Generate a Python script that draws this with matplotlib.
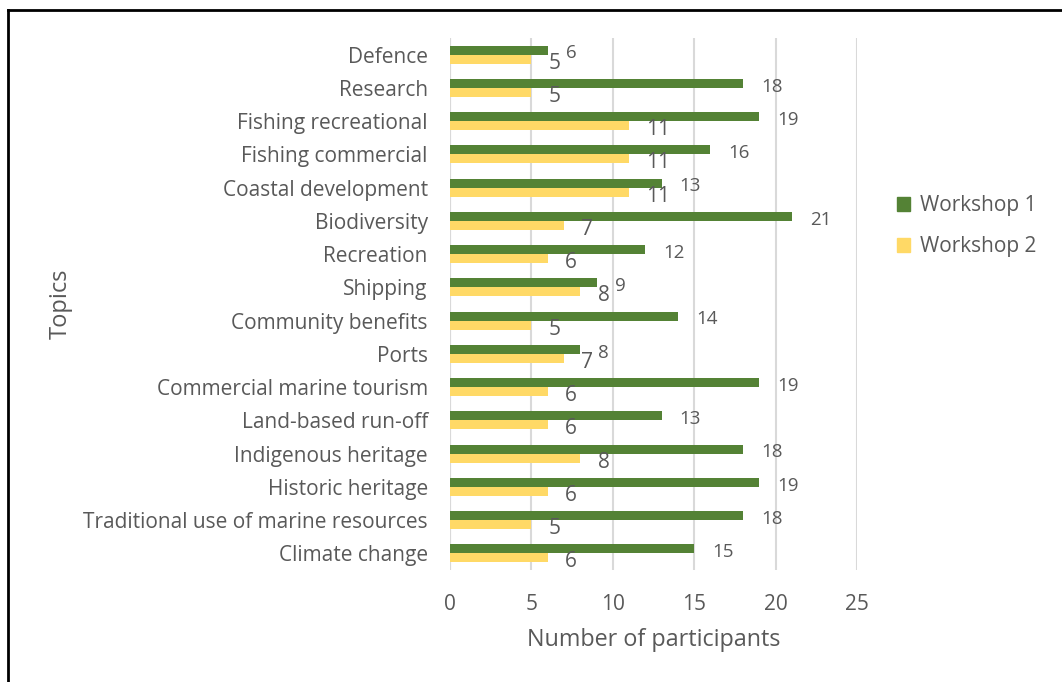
import matplotlib
matplotlib.use("Agg")
import matplotlib.pyplot as plt
import numpy as np
from matplotlib.lines import Line2D
from matplotlib.patches import Patch

plt.rcParams['font.family'] = ['Open Sans', 'DejaVu Sans']

topics = ["Defence", "Research", "Fishing recreational", "Fishing commercial",
          "Coastal development", "Biodiversity", "Recreation", "Shipping",
          "Community benefits", "Ports", "Commercial marine tourism",
          "Land-based run-off", "Indigenous heritage", "Historic heritage",
          "Traditional use of marine resources", "Climate change"]
workshop1 = [6, 18, 19, 16, 13, 21, 12, 9, 14, 8, 19, 13, 18, 19, 18, 15]
workshop2 = [5, 5, 11, 11, 11, 7, 6, 8, 5, 7, 6, 6, 8, 6, 5, 6]
xticks = [0, 5, 10, 15, 20, 25]

green = "#548235"
yellow = "#FFD966"
txt = "#595959"
grid = "#D9D9D9"

W, H = 1062, 682
fig = plt.figure(figsize=(W / 100, H / 100), dpi=100)
ax = fig.add_axes([450 / W, 1 - 570 / H, (857 - 450) / W, (570 - 38) / H])

y = np.arange(len(topics))
h = 0.27
ax.barh(y - h / 2, workshop1, height=h, color=green, zorder=3)
ax.barh(y + h / 2, workshop2, height=h, color=yellow, zorder=3)

for yi, v in zip(y, workshop1):
    ax.annotate(str(v), (v, yi - h / 2), xytext=(13, -6.0), textcoords="offset points",
                ha="left", va="baseline", fontsize=13.5, color=txt)
for yi, v in zip(y, workshop2):
    ax.annotate(str(v), (v, yi + h / 2), xytext=(12.5, -6.8), textcoords="offset points",
                ha="left", va="baseline", fontsize=15, color=txt)

ax.set_ylim(len(topics) - 0.5, -0.5)
ax.set_xlim(0, 25)
ax.set_xticks(xticks)
ax.set_yticks(y)
ax.set_yticklabels(topics)
ax.tick_params(axis="both", length=0, labelsize=15, colors=txt)
ax.tick_params(axis="y", pad=16)
ax.tick_params(axis="x", pad=17)
ax.xaxis.grid(True, color=grid, linewidth=1.5, zorder=0)
for s in ax.spines.values():
    s.set_visible(False)
ax.axvline(0, color=grid, linewidth=1.5, zorder=1)

ax.set_xlabel("Number of participants", fontsize=16.8, color=txt)
ax.set_ylabel("Topics", fontsize=17, color=txt)
ax.yaxis.set_label_coords((61 - 450) / (857 - 450), 0.5)
ax.xaxis.set_label_coords(0.5, -(640 - 570) / (570 - 38))
ax.xaxis.label.set_verticalalignment("center")
ax.yaxis.label.set_verticalalignment("center")

handles = [Patch(color=green, label="Workshop 1"), Patch(color=yellow, label="Workshop 2")]
fig.legend(handles=handles, loc="center left", bbox_to_anchor=(878 / W, 1 - 226 / H),
           frameon=False, fontsize=15, labelcolor=txt, handlelength=0.65, handleheight=0.65,
           labelspacing=0.95, handletextpad=0.45)

# Border (top and left)
fig.add_artist(Line2D([8 / W, 8 / W], [0, 1 - 10 / H], color="black", linewidth=2,
                      transform=fig.transFigure))
fig.add_artist(Line2D([8 / W, 1], [1 - 10 / H, 1 - 10 / H], color="black", linewidth=2,
                      transform=fig.transFigure))

fig.savefig("out.png", dpi=100)
